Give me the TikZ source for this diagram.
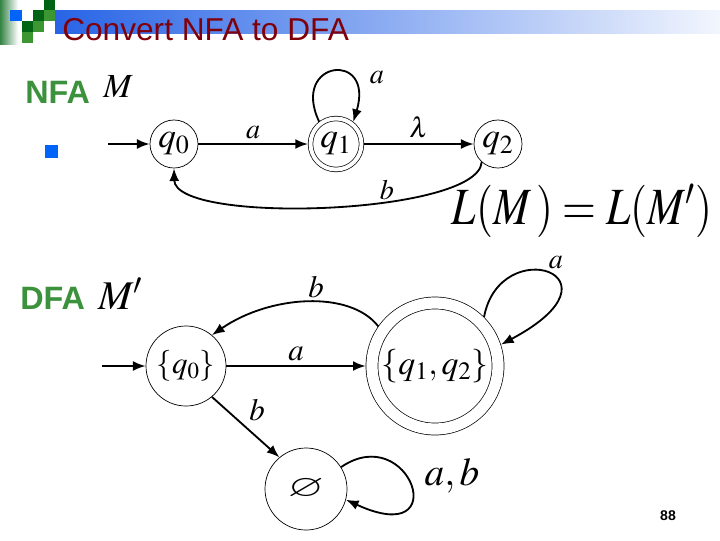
\documentclass[tikz,border=0pt]{standalone}
\usepackage{mathptmx}
\usepackage{amssymb}
\usepackage{graphicx}
\usepackage[no-math]{fontspec}
\setmainfont{Liberation Sans}
\usetikzlibrary{arrows.meta}

\definecolor{titlered}{RGB}{128,0,10}
\definecolor{slidegreen}{RGB}{60,145,60}
\definecolor{barblue}{RGB}{40,100,230}
\definecolor{bulletblue}{RGB}{0,100,250}
\definecolor{sqdark}{RGB}{0,100,20}
\definecolor{sqmid}{RGB}{60,150,50}

\begin{document}
\begin{tikzpicture}[x=0.025cm,y=-0.025cm,
    state/.style={draw,circle,line width=0.5pt,inner sep=0pt},
    edge/.style={line width=1.3pt,-{Latex[length=9pt,width=7pt]}},
    lbl/.style={font=\fontsize{20}{20}\selectfont}]
  \useasboundingbox (0,0) rectangle (720,540);

  % slide header
  \shade[left color=barblue,right color=barblue!6] (55,10) rectangle (720,33);
  \shade[left color=sqdark!80,right color=white] (0,0) rectangle (18,44);
  \fill[bulletblue] (10,10) rectangle (22,21);
  \fill[sqdark] (44,0) rectangle (55,10);
  \fill[sqdark] (33,10) rectangle (44,21);
  \fill[sqmid] (44,10) rectangle (55,21);
  \fill[sqdark] (22,21) rectangle (33,32);
  \fill[sqmid] (33,21) rectangle (44,32);
  \fill[sqmid] (22,32) rectangle (33,43);
  \node[anchor=base west,inner sep=0pt,text=titlered,font=\fontsize{22.5}{22.5}\selectfont] (title) at (62,40) {Convert NFA to DFA};

  % NFA
  \node[anchor=base west,inner sep=0pt,text=slidegreen,font=\bfseries\fontsize{23}{23}\selectfont] (nfa) at (25,103) {NFA};
  \node[anchor=base west,inner sep=0pt,font=\fontsize{24}{24}\selectfont] (m) at (103,97) {$M$};
  \fill[bulletblue] (45,145) rectangle (58,158);

  \node[state,minimum size=1.2cm,font=\fontsize{25}{25}\selectfont] (q0) at (174,144) {$q_0$};
  \node[state,double,double distance=2.8pt,outer sep=1.8pt,minimum size=1.275cm,font=\fontsize{25}{25}\selectfont] (q1) at (336,144) {$q_1$};
  \node[state,minimum size=1.2cm,font=\fontsize{25}{25}\selectfont] (q2) at (498,144) {$q_2$};
  \coordinate (in1) at (108,144);

  \draw[edge] (in1) -- (q0);
  \draw[edge] (q0) -- node[lbl,above] (la) {$a$} (q1);
  \draw[edge] (q1.127) .. controls (290,60) and (375,50) .. (q1.52);
  \node[lbl] (laa) at (377,78) {$a$};
  \draw[edge] (q1) -- node[lbl,above] (llam) {$\lambda$} (q2);
  \draw[edge] (q2.228) .. controls (478,215) and (175,225) .. (q0.south);
  \node[lbl] (lb) at (387,190) {$b$};

  \node[font=\fontsize{31}{31}\selectfont] (lang) at (582,211) {\scalebox{1}[1.2]{$L(M\,)=L(M')$}};

  % DFA
  \node[anchor=base west,inner sep=0pt,text=slidegreen,font=\bfseries\fontsize{23}{23}\selectfont] (dfa) at (20,309) {DFA};
  \node[anchor=base west,inner sep=0pt,font=\fontsize{29}{29}\selectfont] (mp) at (98,309) {$M'$};

  \node[state,minimum size=2cm,font=\fontsize{22}{22}\selectfont] (p0) at (186,366) {$\{q_0\}$};
  \node[state,double,double distance=8pt,outer sep=4.5pt,minimum size=3.15cm,font=\fontsize{24}{24}\selectfont] (p12) at (435,366) {$\{q_1,q_2\}$};
  \node[state,minimum size=2.05cm,font=\fontsize{22}{22}\selectfont] (pe) at (306,489) {\scalebox{1.5}[1]{$\varnothing$}};
  \coordinate (in2) at (102,366);

  \draw[edge] (in2) -- (p0);
  \draw[edge] (p0) -- node[lbl,above,font=\fontsize{22}{22}\selectfont] (pa) {$a$} (p12);
  \draw[edge] (p12.145) .. controls (350,290) and (270,295) .. (p0.50);
  \node[lbl,font=\fontsize{22}{22}\selectfont] (pb) at (316,287) {$b$};
  \draw[edge] (p12.45) .. controls (500,232) and (632,275) .. (p12.18);
  \node[lbl] (paa) at (556,263) {$a$};
  \draw[edge] (p0.-50) -- (pe.130);
  \node[lbl,font=\fontsize{22}{22}\selectfont] (pbe) at (257,410) {$b$};
  \draw[edge] (pe.32) .. controls (410,420) and (455,550) .. (pe.-15);
  \node[font=\fontsize{28}{28}\selectfont] (pab) at (452,476) {$a,b$};

  \node[font=\bfseries\fontsize{10}{10}\selectfont] (page) at (668,516) {88};
\end{tikzpicture}
\end{document}
